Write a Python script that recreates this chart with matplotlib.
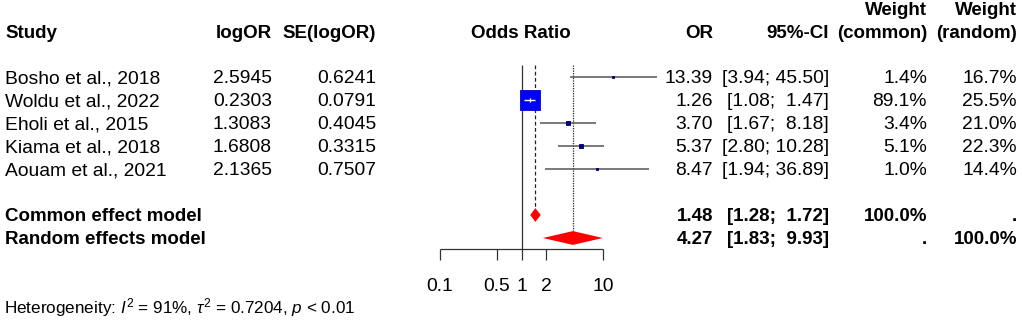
import matplotlib
matplotlib.use("Agg")
import matplotlib.pyplot as plt
import matplotlib.transforms as mtransforms

plt.rcParams['font.family'] = ['Liberation Sans', 'DejaVu Sans']
plt.rcParams['mathtext.fontset'] = 'custom'
plt.rcParams['mathtext.rm'] = 'Liberation Sans'
plt.rcParams['mathtext.it'] = 'Liberation Sans:italic'
plt.rcParams['mathtext.bf'] = 'Liberation Sans:bold'

# study level data
studies = ["Bosho et al., 2018", "Woldu et al., 2022", "Eholi et al., 2015",
           "Kiama et al., 2018", "Aouam et al., 2021"]
log_or = [2.5945, 0.2303, 1.3083, 1.6808, 2.1365]
se_log_or = [0.6241, 0.0791, 0.4045, 0.3315, 0.7507]
odds = [13.39, 1.26, 3.70, 5.37, 8.47]
ci_low = [3.94, 1.08, 1.67, 2.80, 1.94]
ci_high = [45.50, 1.47, 8.18, 10.28, 36.89]
w_common = [1.4, 89.1, 3.4, 5.1, 1.0]
w_random = [16.7, 25.5, 21.0, 22.3, 14.4]

# pooled estimates
models = ["Common effect model", "Random effects model"]
pooled_or = [1.48, 4.27]
pooled_low = [1.28, 1.83]
pooled_high = [1.72, 9.93]
pooled_wc = ["100.0%", "."]
pooled_wr = [".", "100.0%"]

ticks = [0.1, 0.5, 1, 2, 10]
tick_labels = ["0.1", "0.5", "1", "2", "10"]

FS = 13.9
FSB = 13.5
W, H = 1022, 322

fig = plt.figure(figsize=(W / 100, H / 100), dpi=100)
# forest panel, rows are in units of one line (23 px), row 0 at y=77px
ax = fig.add_axes([420 / W, 0, 300 / W, 1])
ax.set_xscale('log')
ax.set_xlim(10 ** ((420 - 521.5) / 81.5), 10 ** ((720 - 521.5) / 81.5))
ax.set_ylim((H - 77) / 23, -77 / 23)
ax.axis('off')

tr = mtransforms.blended_transform_factory(fig.transFigure, ax.transData)

def px(x):
    return x / W

rows = list(range(len(studies)))
pool_rows = [len(studies) + 1, len(studies) + 2]
top = -0.52
axis_y = 7.48

# reference lines
ax.vlines(1, top, axis_y, color='#333333', lw=0.9)
ax.vlines(pooled_or[0], top, pool_rows[0] - 0.3, color='#222222', lw=0.9,
          linestyles=(0, (3, 2)))
ax.vlines(pooled_or[1], top, pool_rows[1] - 0.3, color='#222222', lw=0.9,
          linestyles=(0, (1, 1)))

# confidence intervals and squares
max_w = max(w_common)
for i in rows:
    big = w_common[i] == max_w
    ax.hlines(i, ci_low[i], ci_high[i], color='#555555', lw=1.1, zorder=2)
    ax.scatter(odds[i], i, marker='s', s=190 * w_common[i] / max_w,
               color='#0000ff' if big else '#00008b',
               edgecolors='#0000cc' if big else '#000060',
               linewidths=0.6, zorder=3)
    if big:
        ax.hlines(i, ci_low[i], ci_high[i], color='white', lw=1.0, zorder=4)
        ax.vlines(odds[i], i - 0.1, i + 0.1, color='white', lw=1.0, zorder=4)

# pooled diamonds
for r, est, lo, hi in zip(pool_rows, pooled_or, pooled_low, pooled_high):
    ax.fill([lo, est, hi, est], [r, r - 0.3, r, r + 0.3], color='red',
            lw=0, zorder=3)

# x axis drawn R style
ax.hlines(axis_y, ticks[0], ticks[-1], color='#333333', lw=0.9)
ax.vlines(ticks, axis_y, axis_y + 0.48, color='#333333', lw=0.9)
for t, lab in zip(ticks, tick_labels):
    ax.text(t, 9.09, lab, ha='center', va='center', fontsize=FS)

# headers
hy = -1.91
bold = dict(fontsize=FSB, fontweight='bold', va='center', transform=tr)
fig.text(px(5), hy, "Study", ha='left', **bold)
fig.text(px(272), hy, "logOR", ha='right', **bold)
fig.text(px(376), hy, "SE(logOR)", ha='right', **bold)
fig.text(px(521), hy, "Odds Ratio", ha='center', **bold)
fig.text(px(713), hy, "OR", ha='right', **bold)
fig.text(px(829), hy, "95%-CI", ha='right', **bold)
fig.text(px(927), hy, "(common)", ha='right', **bold)
fig.text(px(1017), hy, "(random)", ha='right', **bold)
fig.text(px(927), hy - 1, "Weight", ha='right', **bold)
fig.text(px(1017), hy - 1, "Weight", ha='right', **bold)

# study rows
norm = dict(fontsize=FS, va='center', transform=tr)
for i in rows:
    y = i + 0.08
    fig.text(px(5), y, studies[i], ha='left', **norm)
    fig.text(px(272), y, f"{log_or[i]:.4f}", ha='right', **norm)
    fig.text(px(376), y, f"{se_log_or[i]:.4f}", ha='right', **norm)
    fig.text(px(713), y, f"{odds[i]:.2f}", ha='right', **norm)
    fig.text(px(829), y, f"[{ci_low[i]:.2f}; {ci_high[i]:5.2f}]", ha='right', **norm)
    fig.text(px(927), y, f"{w_common[i]:.1f}%", ha='right', **norm)
    fig.text(px(1017), y, f"{w_random[i]:.1f}%", ha='right', **norm)

# pooled rows
for k, r in enumerate(pool_rows):
    y = r + 0.05
    fig.text(px(5), y, models[k], ha='left', **bold)
    fig.text(px(713), y, f"{pooled_or[k]:.2f}", ha='right', **bold)
    fig.text(px(829), y, f"[{pooled_low[k]:.2f}; {pooled_high[k]:5.2f}]",
             ha='right', **bold)
    fig.text(px(927), y, pooled_wc[k], ha='right', **bold)
    fig.text(px(1017), y, pooled_wr[k], ha='right', **bold)

fig.text(px(4), 10.04,
         r"Heterogeneity: $\mathit{I}^2$ = 91%, $\tau^2$ = 0.7204, $\mathit{p}$ < 0.01",
         ha='left', fontsize=12.3, va='center', transform=tr)

fig.savefig("out.png", dpi=100, facecolor='white')
